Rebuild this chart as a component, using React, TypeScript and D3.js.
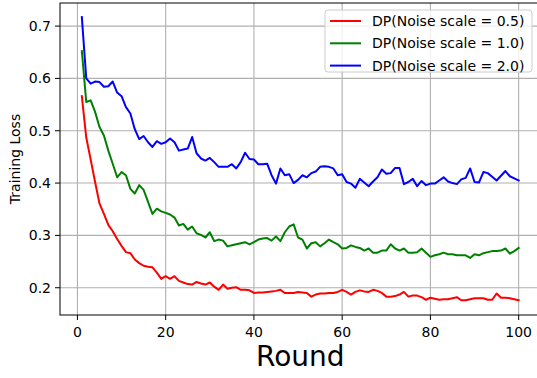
import React from "react";
import * as d3 from "d3";

const rounds: number[] = Array.from({ length: 100 }, (_, i) => i + 1);

const lossNoise05: number[] = [
  0.566, 0.487, 0.445, 0.402, 0.361, 0.341, 0.320, 0.308, 0.293, 0.280,
  0.268, 0.266, 0.254, 0.247, 0.242, 0.240, 0.239, 0.229, 0.217, 0.222,
  0.217, 0.222, 0.213, 0.210, 0.207, 0.206, 0.211, 0.208, 0.206, 0.210,
  0.202, 0.196, 0.206, 0.198, 0.200, 0.201, 0.196, 0.196, 0.195, 0.190,
  0.191, 0.191, 0.192, 0.193, 0.194, 0.196, 0.190, 0.190, 0.190, 0.192,
  0.191, 0.190, 0.183, 0.187, 0.189, 0.189, 0.190, 0.190, 0.192, 0.196,
  0.192, 0.187, 0.192, 0.195, 0.193, 0.192, 0.196, 0.194, 0.190, 0.183,
  0.183, 0.184, 0.187, 0.192, 0.183, 0.185, 0.185, 0.182, 0.177, 0.181,
  0.179, 0.177, 0.178, 0.178, 0.180, 0.182, 0.176, 0.176, 0.178, 0.180,
  0.180, 0.180, 0.177, 0.177, 0.189, 0.181, 0.181, 0.180, 0.178, 0.176,
];

const lossNoise10: number[] = [
  0.652, 0.555, 0.558, 0.536, 0.507, 0.491, 0.462, 0.437, 0.411, 0.421,
  0.415, 0.389, 0.380, 0.396, 0.387, 0.364, 0.341, 0.351, 0.346, 0.343,
  0.340, 0.334, 0.319, 0.322, 0.311, 0.317, 0.304, 0.301, 0.296, 0.306,
  0.289, 0.292, 0.290, 0.279, 0.281, 0.283, 0.285, 0.287, 0.283, 0.287,
  0.292, 0.294, 0.295, 0.290, 0.298, 0.289, 0.306, 0.317, 0.321, 0.296,
  0.292, 0.275, 0.285, 0.287, 0.279, 0.285, 0.292, 0.287, 0.283, 0.275,
  0.276, 0.281, 0.278, 0.276, 0.271, 0.275, 0.267, 0.267, 0.271, 0.271,
  0.283, 0.275, 0.271, 0.275, 0.267, 0.267, 0.268, 0.275, 0.267, 0.259,
  0.262, 0.264, 0.267, 0.264, 0.264, 0.262, 0.262, 0.262, 0.257, 0.264,
  0.262, 0.266, 0.268, 0.270, 0.270, 0.271, 0.275, 0.265, 0.270, 0.276,
];

const lossNoise20: number[] = [
  0.717, 0.600, 0.590, 0.594, 0.593, 0.584, 0.585, 0.594, 0.573, 0.566,
  0.545, 0.533, 0.503, 0.484, 0.490, 0.478, 0.469, 0.480, 0.475, 0.478,
  0.485, 0.478, 0.462, 0.464, 0.466, 0.488, 0.457, 0.447, 0.443, 0.448,
  0.440, 0.431, 0.431, 0.431, 0.436, 0.428, 0.440, 0.458, 0.446, 0.445,
  0.436, 0.436, 0.437, 0.415, 0.399, 0.428, 0.415, 0.417, 0.400, 0.406,
  0.415, 0.411, 0.419, 0.422, 0.431, 0.432, 0.431, 0.428, 0.415, 0.417,
  0.402, 0.399, 0.391, 0.408, 0.401, 0.394, 0.403, 0.411, 0.426, 0.418,
  0.419, 0.429, 0.429, 0.398, 0.402, 0.408, 0.394, 0.404, 0.396, 0.399,
  0.399, 0.405, 0.411, 0.403, 0.400, 0.398, 0.407, 0.410, 0.428, 0.402,
  0.401, 0.421, 0.419, 0.412, 0.405, 0.414, 0.423, 0.413, 0.409, 0.405,
];

const seriesLabels: string[] = [
  "DP(Noise scale = 0.5)",
  "DP(Noise scale = 1.0)",
  "DP(Noise scale = 2.0)",
];
const seriesColors: string[] = ["#ff0000", "#008000", "#0000ff"];
const xTicks: number[] = [0, 20, 40, 60, 80, 100];
const yTicks: number[] = [0.2, 0.3, 0.4, 0.5, 0.6, 0.7];

const W = 537;
const H = 378;
const left = 60;
const right = 540.5;
const top = 3;
const bottom = 315;
const FONT = "DejaVu Sans, sans-serif";

export default function App() {
  const x = d3.scaleLinear().domain([-3.95, 104.95]).range([left, right]);
  const y = d3.scaleLinear().domain([0.1479, 0.7441]).range([bottom, top]);
  const series = [lossNoise05, lossNoise10, lossNoise20];
  const line = d3
    .line<number>()
    .x((_, i) => x(rounds[i]))
    .y((d) => y(d));

  const legX = 325;
  const legY = 10;
  const legW = 207;
  const legH = 62;

  return (
    <svg
      width={W}
      height={H}
      style={{ position: "absolute", left: 0, top: 0, background: "#fff" }}
      fontFamily={FONT}
    >
      <rect x={0} y={0} width={W} height={H} fill="#fff" />
      <defs>
        <clipPath id="plot">
          <rect x={left} y={top} width={right - left} height={bottom - top} />
        </clipPath>
      </defs>
      {/* grid */}
      {xTicks.map((t) => (
        <line key={"gx" + t} x1={x(t)} x2={x(t)} y1={top} y2={bottom} stroke="#b0b0b0" strokeWidth={1.1} />
      ))}
      {yTicks.map((t) => (
        <line key={"gy" + t} x1={left} x2={right} y1={y(t)} y2={y(t)} stroke="#b0b0b0" strokeWidth={1.1} />
      ))}
      {/* lines */}
      <g clipPath="url(#plot)">
        {series.map((s, k) => (
          <path
            key={k}
            d={line(s) || ""}
            fill="none"
            stroke={seriesColors[k]}
            strokeWidth={2}
            strokeLinejoin="round"
            strokeLinecap="square"
          />
        ))}
      </g>
      {/* spines */}
      <rect x={left} y={top} width={right - left} height={bottom - top} fill="none" stroke="#000" strokeWidth={1} />
      {/* x ticks */}
      {xTicks.map((t) => (
        <g key={"xt" + t}>
          <line x1={x(t)} x2={x(t)} y1={bottom} y2={bottom + 5} stroke="#000" strokeWidth={1} />
          <text x={x(t)} y={bottom + 22} textAnchor="middle" fontSize={14} fill="#000">
            {t}
          </text>
        </g>
      ))}
      {/* y ticks */}
      {yTicks.map((t) => (
        <g key={"yt" + t}>
          <line x1={left - 5} x2={left} y1={y(t)} y2={y(t)} stroke="#000" strokeWidth={1} />
          <text x={left - 9} y={y(t) + 5} textAnchor="end" fontSize={14} fill="#000">
            {t.toFixed(1)}
          </text>
        </g>
      ))}
      {/* axis labels */}
      <text x={(left + right) / 2} y={366} textAnchor="middle" fontSize={28} fill="#000">
        Round
      </text>
      <text
        transform={`translate(20, ${(top + bottom) / 2}) rotate(-90)`}
        textAnchor="middle"
        fontSize={14}
        fill="#000"
      >
        Training Loss
      </text>
      {/* legend */}
      <rect x={legX} y={legY} width={legW} height={legH} rx={3} fill="#fff" fillOpacity={0.8} stroke="#cccccc" strokeWidth={1} />
      {seriesLabels.map((lab, k) => {
        const cy = 21 + k * 22.3;
        return (
          <g key={"lg" + k}>
            <line x1={330} x2={361} y1={cy} y2={cy} stroke={seriesColors[k]} strokeWidth={2} />
            <text x={372} y={cy + 5} fontSize={14} fill="#000">
              {lab}
            </text>
          </g>
        );
      })}
    </svg>
  );
}
